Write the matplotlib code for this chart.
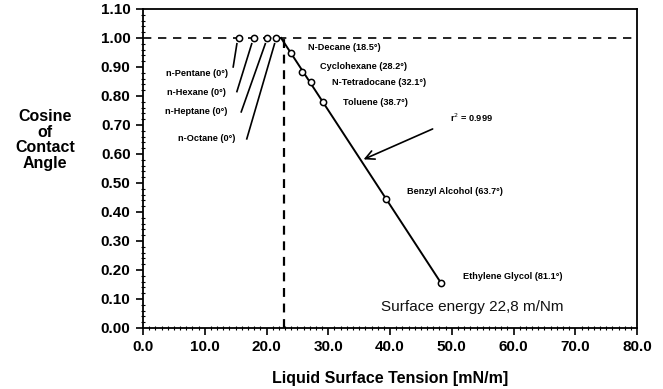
import numpy as np
import matplotlib
matplotlib.use('Agg')
import matplotlib.pyplot as plt
from matplotlib.ticker import MultipleLocator, FormatStrFormatter

plt.rcParams['font.family'] = ['Liberation Sans', 'DejaVu Sans']

# n-alkanes that wet completely (contact angle 0)
alkanes = ['n-Pentane (0°)', 'n-Hexane (0°)', 'n-Heptane (0°)', 'n-Octane (0°)']
alkane_tension = [15.5, 17.9, 20.1, 21.6]
alkane_cos = [1.0, 1.0, 1.0, 1.0]
alkane_label_pos = [(13.8, 0.879), (13.4, 0.812), (13.7, 0.745), (14.9, 0.652)]
alkane_leader_end = [(14.6, 0.90), (15.2, 0.815), (15.9, 0.745), (16.8, 0.652)]

# liquids with a finite contact angle
liquids = ['N-Decane', 'Cyclohexane', 'N-Tetradocane', 'Toluene',
           'Benzyl Alcohol', 'Ethylene Glycol']
angles = [18.5, 28.2, 32.1, 38.7, 63.7, 81.1]
tension = [24.0, 25.7, 27.2, 29.2, 39.3, 48.3]
label_pos = [(26.7, 0.966), (28.7, 0.903), (30.6, 0.845), (32.4, 0.779),
             (42.8, 0.472), (51.8, 0.179)]

critical = 22.8

cosines = np.cos(np.radians(angles))

fig = plt.figure(figsize=(6.63, 3.89), dpi=100)
ax = fig.add_axes([0.2157, 0.157, 0.7453, 0.820])

# Zisman fit through the partially wetting liquids
slope, icept = np.polyfit(tension, cosines, 1)
x0 = (1.0 - icept) / slope
xs = np.array([x0, max(tension)])
ax.plot(xs, slope * xs + icept, color='black', lw=1.4, zorder=2)

# reference lines at cos = 1 and at the critical surface tension
ax.axhline(1.0, color='black', lw=1.2, ls=(0, (5, 4)), zorder=1)
ax.plot([critical, critical], [0, 1.0], color='black', lw=1.6,
        ls=(0, (4, 3)), zorder=1)

ax.plot(alkane_tension, alkane_cos, 'o', ms=4.5, mfc='white', mec='black',
        mew=1.1, zorder=3)
ax.plot(tension, cosines, 'o', ms=4.5, mfc='white', mec='black',
        mew=1.1, zorder=3)

lab_kw = dict(fontsize=6.6, fontweight='bold', va='center')
for name, xt, (lx, ly), (ex, ey) in zip(alkanes, alkane_tension,
                                         alkane_label_pos, alkane_leader_end):
    ax.plot([xt - 0.3, ex], [0.98, ey], color='black', lw=1.2)
    ax.text(lx, ly, name, ha='right', **lab_kw)

for name, ang, (lx, ly) in zip(liquids, angles, label_pos):
    ax.text(lx, ly, f'{name} ({ang}°)', ha='left', **lab_kw)

ax.text(49.7, 0.724, r'r$^2$ = 0.999', ha='left', **lab_kw)
tip_x = 35.3
ax.annotate('', xy=(tip_x, slope * tip_x + icept), xytext=(47.3, 0.69),
            arrowprops=dict(arrowstyle='->', color='black', lw=1.2,
                            mutation_scale=16))

ax.text(38.5, 0.072, 'Surface energy 22,8 m/Nm', fontsize=11,
        ha='left', va='center', color='#111111')

ax.set_xlim(0, 80)
ax.set_ylim(0, 1.10)
ax.xaxis.set_major_locator(MultipleLocator(10))
ax.xaxis.set_minor_locator(MultipleLocator(1))
ax.yaxis.set_major_locator(MultipleLocator(0.1))
ax.yaxis.set_minor_locator(MultipleLocator(0.02))
ax.xaxis.set_major_formatter(FormatStrFormatter('%.1f'))
ax.yaxis.set_major_formatter(FormatStrFormatter('%.2f'))
ax.tick_params(which='major', direction='out', length=5, width=1.2,
               labelsize=11, pad=4)
ax.tick_params(which='minor', direction='inout', length=3, width=0.8)
ax.tick_params(top=False, right=False, which='both')
for t in ax.get_xticklabels() + ax.get_yticklabels():
    t.set_fontweight('bold')
for s in ax.spines.values():
    s.set_linewidth(1.3)

ax.set_xlabel('Liquid Surface Tension [mN/m]', fontsize=11.5,
              fontweight='bold', labelpad=12)
fig.text(0.068, 0.64, 'Cosine\nof\nContact\nAngle', fontsize=11.5,
         fontweight='bold', ha='center', va='center', linespacing=1.05)

fig.savefig('out.png', dpi=100)
